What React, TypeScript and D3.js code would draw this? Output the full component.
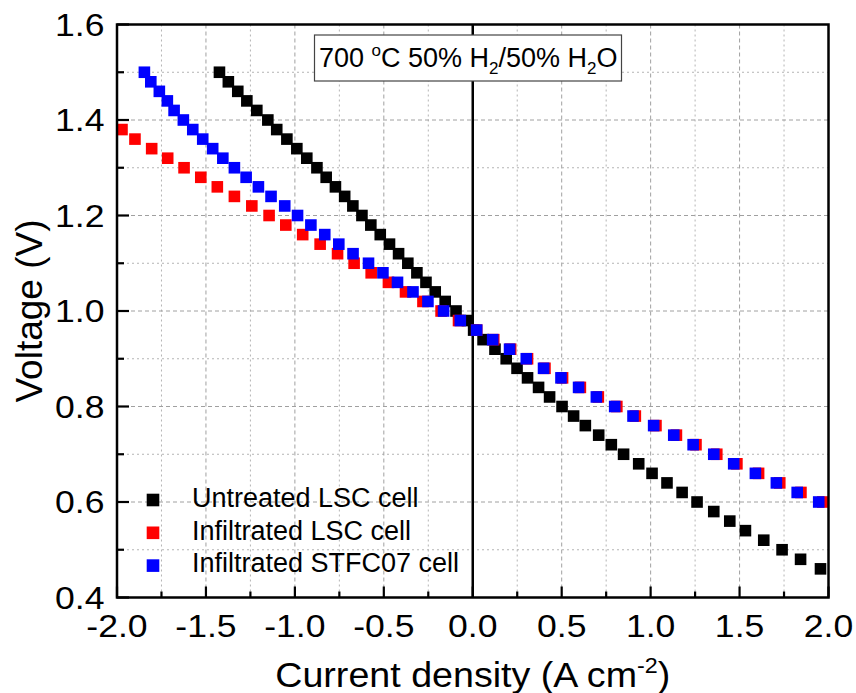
import React from "react";
import * as d3 from "d3";

// ---- data (voltage levels in V, current density in A cm^-2) ----
const untreatedV = [1.50, 1.48, 1.46, 1.44, 1.42, 1.40, 1.38, 1.36, 1.34, 1.32, 1.30, 1.28, 1.26, 1.24, 1.22, 1.20, 1.18, 1.16, 1.14, 1.12, 1.10, 1.08, 1.06, 1.04, 1.02, 1.00, 0.98, 0.96, 0.94, 0.92, 0.90, 0.88, 0.86, 0.84, 0.82, 0.80, 0.78, 0.76, 0.74, 0.72, 0.70, 0.68, 0.66, 0.64, 0.62, 0.60, 0.58, 0.56, 0.54, 0.52, 0.50, 0.48, 0.46];
const untreatedI = [-1.424, -1.374, -1.321, -1.270, -1.214, -1.152, -1.102, -1.045, -0.989, -0.933, -0.876, -0.824, -0.772, -0.720, -0.674, -0.623, -0.573, -0.520, -0.468, -0.417, -0.365, -0.314, -0.263, -0.211, -0.155, -0.094, -0.030, 0.005, 0.058, 0.125, 0.188, 0.249, 0.308, 0.370, 0.432, 0.502, 0.567, 0.633, 0.708, 0.779, 0.848, 0.933, 1.008, 1.092, 1.177, 1.261, 1.355, 1.445, 1.533, 1.636, 1.739, 1.843, 1.955];

const lscV = [1.38, 1.36, 1.34, 1.32, 1.30, 1.28, 1.26, 1.24, 1.22, 1.20, 1.18, 1.16, 1.14, 1.12, 1.10, 1.08, 1.06, 1.04, 1.02, 1.00, 0.98, 0.96, 0.94, 0.92, 0.90, 0.88, 0.86, 0.84, 0.82, 0.80, 0.78, 0.76, 0.74, 0.72, 0.70, 0.68, 0.66, 0.64, 0.62, 0.60];
const lscI = [-1.972, -1.899, -1.805, -1.715, -1.623, -1.529, -1.436, -1.340, -1.242, -1.145, -1.051, -0.956, -0.858, -0.760, -0.667, -0.571, -0.474, -0.378, -0.280, -0.178, -0.080, 0.022, 0.118, 0.213, 0.308, 0.406, 0.505, 0.605, 0.706, 0.810, 0.914, 1.030, 1.145, 1.255, 1.372, 1.485, 1.607, 1.726, 1.845, 1.968];

const stfcV = [1.50, 1.48, 1.46, 1.44, 1.42, 1.40, 1.38, 1.36, 1.34, 1.32, 1.30, 1.28, 1.26, 1.24, 1.22, 1.20, 1.18, 1.16, 1.14, 1.12, 1.10, 1.08, 1.06, 1.04, 1.02, 1.00, 0.98, 0.96, 0.94, 0.92, 0.90, 0.88, 0.86, 0.84, 0.82, 0.80, 0.78, 0.76, 0.74, 0.72, 0.70, 0.68, 0.66, 0.64, 0.62, 0.60];
const stfcI = [-1.846, -1.810, -1.762, -1.717, -1.679, -1.627, -1.574, -1.518, -1.462, -1.405, -1.340, -1.274, -1.205, -1.134, -1.057, -0.985, -0.910, -0.832, -0.753, -0.673, -0.586, -0.505, -0.423, -0.336, -0.252, -0.164, -0.070, 0.022, 0.112, 0.207, 0.301, 0.398, 0.496, 0.595, 0.695, 0.798, 0.901, 1.017, 1.130, 1.239, 1.355, 1.467, 1.589, 1.707, 1.824, 1.945];

const seriesNames = ["Untreated LSC cell", "Infiltrated LSC cell", "Infiltrated STFC07 cell"];
const seriesColors = ["#000000", "#ff0000", "#0000ff"];

const xMajorTicks = [-2.0, -1.5, -1.0, -0.5, 0.0, 0.5, 1.0, 1.5, 2.0];
const xMinorTicks = [-1.75, -1.25, -0.75, -0.25, 0.25, 0.75, 1.25, 1.75];
const yMajorTicks = [0.4, 0.6, 0.8, 1.0, 1.2, 1.4, 1.6];
const yMinorTicks = [0.5, 0.7, 0.9, 1.1, 1.3, 1.5];

const W = 856;
const H = 693;
const FONT = "'Liberation Sans', Arial, Helvetica, sans-serif";

export default function App() {
  const left = 117, right = 828.5, top = 24.5, bottom = 597.5;
  const x = d3.scaleLinear().domain([-2, 2]).range([left, right]);
  const y = d3.scaleLinear().domain([0.4, 1.6]).range([bottom, top]);
  const ms = 11.6;

  const series = [
    { v: untreatedV, i: untreatedI },
    { v: lscV, i: lscI },
    { v: stfcV, i: stfcI },
  ];

  const tickScale = 1.13;

  return (
    <svg width={W} height={H} style={{ position: "absolute", left: 0, top: 0, background: "#fff" }} fontFamily={FONT}>
      <rect x={0} y={0} width={W} height={H} fill="#fff" />
      {/* minor grid */}
      {xMinorTicks.map((t) => (
        <line key={"gxm" + t} x1={x(t)} x2={x(t)} y1={top} y2={bottom} stroke="#b4b4b4" strokeWidth={1} strokeDasharray="2,3" />
      ))}
      {yMinorTicks.map((t) => (
        <line key={"gym" + t} x1={left} x2={right} y1={y(t)} y2={y(t)} stroke="#b4b4b4" strokeWidth={1} strokeDasharray="2,3" />
      ))}
      {/* major grid */}
      {xMajorTicks.filter((t) => t !== 0 && t !== -2 && t !== 2).map((t) => (
        <line key={"gx" + t} x1={x(t)} x2={x(t)} y1={top} y2={bottom} stroke="#a0a0a0" strokeWidth={1} strokeDasharray="4,3" />
      ))}
      {yMajorTicks.filter((t) => t !== 0.4 && t !== 1.6).map((t) => (
        <line key={"gy" + t} x1={left} x2={right} y1={y(t)} y2={y(t)} stroke="#a0a0a0" strokeWidth={1} strokeDasharray="4,3" />
      ))}
      {/* zero line */}
      <line x1={x(0)} x2={x(0)} y1={top} y2={bottom} stroke="#000" strokeWidth={2.5} />

      {/* markers */}
      {series.map((s, si) => (
        <g key={"s" + si} fill={seriesColors[si]}>
          {s.v.map((v, k) => (
            <rect key={k} x={x(s.i[k]) - ms / 2} y={y(v) - ms / 2} width={ms} height={ms} />
          ))}
        </g>
      ))}

      {/* condition box */}
      <rect x={314.5} y={35} width={307} height={46} fill="#fff" stroke="#444" strokeWidth={1.2} />
      <text x={319} y={66.5} fontSize={27} fill="#000">
        700 <tspan fontSize={17} dy={-11}>o</tspan><tspan dy={11}>C 50% H</tspan><tspan fontSize={17} dy={7}>2</tspan><tspan dy={-7}>/50% H</tspan><tspan fontSize={17} dy={7}>2</tspan><tspan dy={-7}>O</tspan>
      </text>

      {/* frame */}
      <rect x={left} y={top} width={right - left} height={bottom - top} fill="none" stroke="#000" strokeWidth={2.5} />

      {/* ticks */}
      {xMajorTicks.map((t) => (
        <line key={"tx" + t} x1={x(t)} x2={x(t)} y1={bottom} y2={bottom - 11} stroke="#000" strokeWidth={2.2} />
      ))}
      {xMinorTicks.map((t) => (
        <line key={"txm" + t} x1={x(t)} x2={x(t)} y1={bottom} y2={bottom - 6} stroke="#000" strokeWidth={2.2} />
      ))}
      {yMajorTicks.map((t) => (
        <line key={"ty" + t} x1={left} x2={left + 12} y1={y(t)} y2={y(t)} stroke="#000" strokeWidth={2.2} />
      ))}
      {yMinorTicks.map((t) => (
        <line key={"tym" + t} x1={left} x2={left + 7} y1={y(t)} y2={y(t)} stroke="#000" strokeWidth={2.2} />
      ))}

      {/* tick labels */}
      {xMajorTicks.map((t) => (
        <text key={"lx" + t} transform={`translate(${x(t)},${637}) scale(${tickScale},1)`} textAnchor="middle" fontSize={31.5} fill="#000">
          {d3.format(".1f")(t).replace("−", "-")}
        </text>
      ))}
      {yMajorTicks.map((t) => (
        <text key={"ly" + t} transform={`translate(${104.5},${y(t) + 11.3}) scale(${tickScale},1)`} textAnchor="end" fontSize={31.5} fill="#000">
          {d3.format(".1f")(t)}
        </text>
      ))}

      {/* axis titles */}
      <text transform={`translate(${x(0)},${686.5}) scale(1.06,1)`} textAnchor="middle" fontSize={35.5} fill="#000">
        Current density (A cm<tspan fontSize={22} dy={-14}>-2</tspan><tspan dy={14}>)</tspan>
      </text>
      <text transform={`translate(${41.5},${(top + bottom) / 2}) rotate(-90)`} textAnchor="middle" fontSize={37} fill="#000">
        Voltage (V)
      </text>

      {/* legend */}
      {seriesNames.map((n, k) => (
        <g key={"lg" + k}>
          <rect x={153 - 6.3} y={500 + k * 32.8 - 6.3} width={12.6} height={12.6} fill={seriesColors[k]} />
          <text x={192} y={506.8 + k * 32.8} fontSize={27} fill="#000">{n}</text>
        </g>
      ))}
    </svg>
  );
}
